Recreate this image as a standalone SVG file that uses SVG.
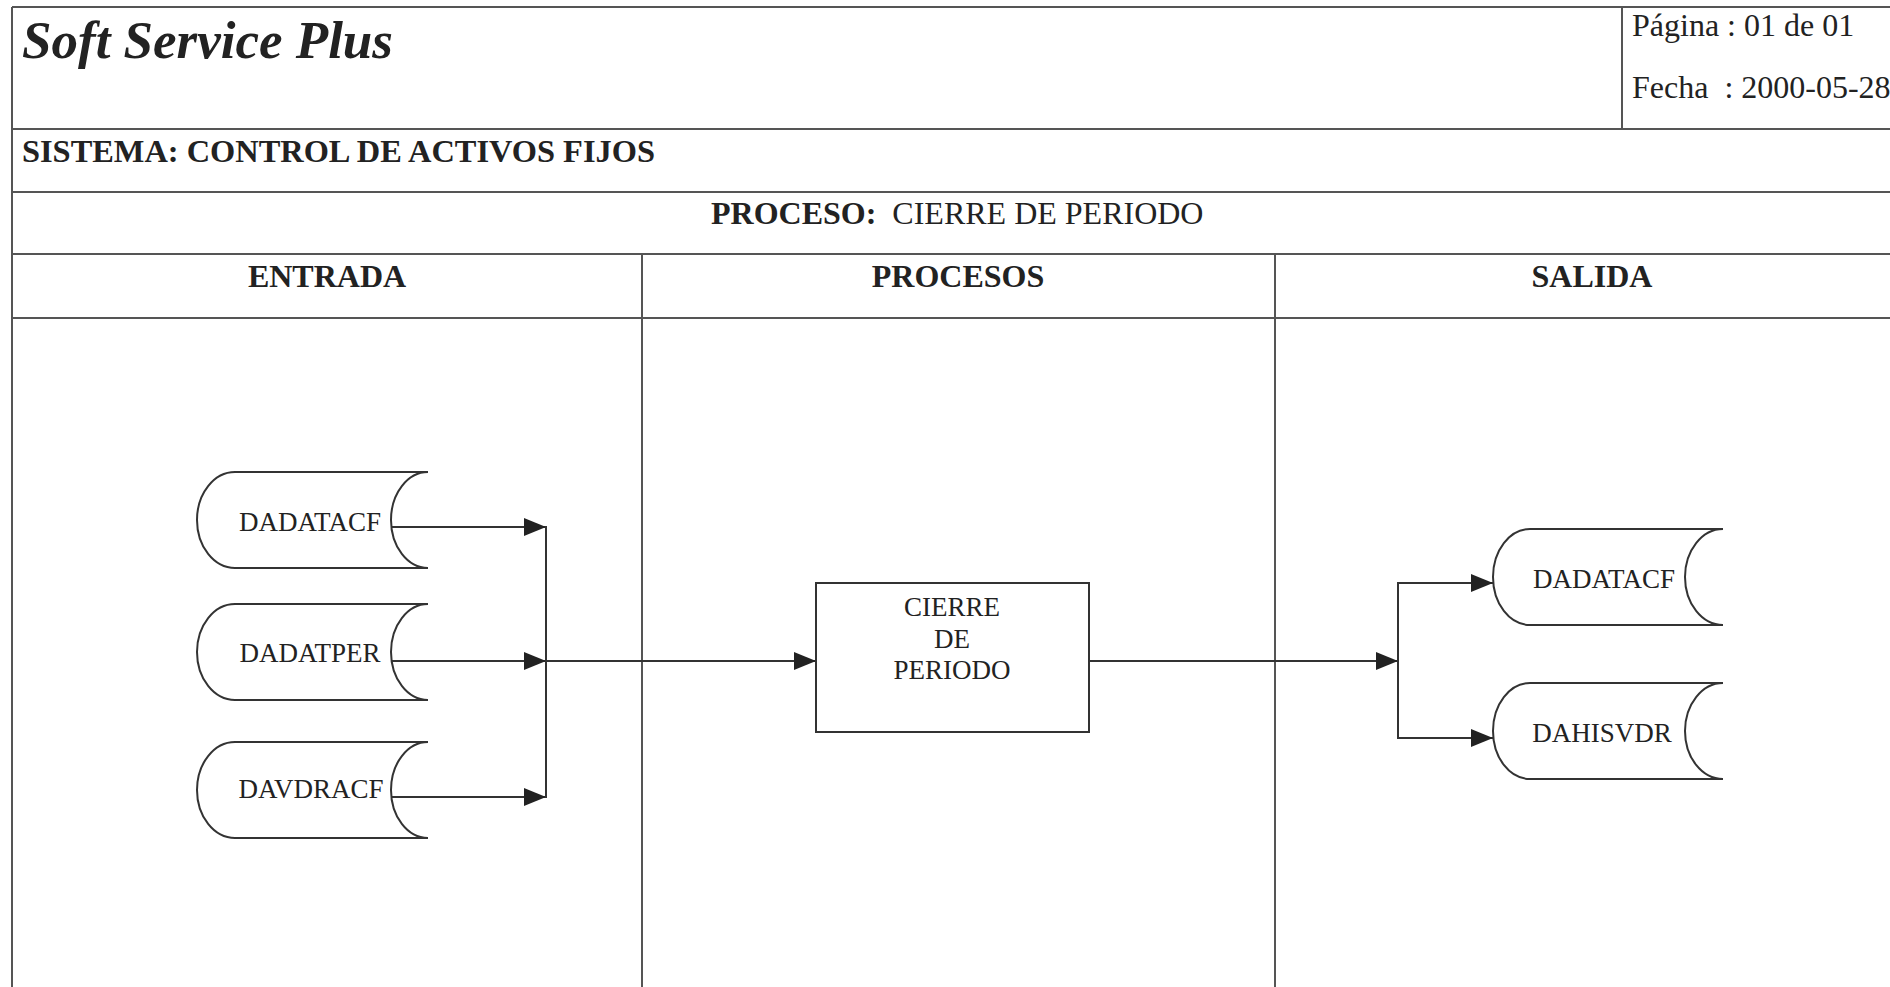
<svg xmlns="http://www.w3.org/2000/svg" width="1890" height="987" viewBox="0 0 1890 987">
<style>
.frame{stroke:#555;stroke-width:2;fill:none}
.shape{stroke:#333;stroke-width:2;fill:#fff}
.conn{stroke:#333;stroke-width:2;fill:none}
.t{font-family:"Liberation Serif","Times New Roman",serif;fill:#222}
.b{font-weight:bold}
.lbl{font-size:27px;text-anchor:middle}
</style>
<defs>
<marker id="arr" viewBox="0 0 22 18" refX="22" refY="9" markerWidth="22" markerHeight="18" markerUnits="userSpaceOnUse" orient="auto">
<path d="M0,0 L22,9 L0,18 Z" fill="#222"/>
</marker>
</defs>
<rect width="1890" height="987" fill="#fff"/>
<g id="frame">
<line class="frame" x1="12" y1="7" x2="1890" y2="7"/>
<line class="frame" x1="12" y1="7" x2="12" y2="987"/>
<line class="frame" x1="12" y1="129" x2="1890" y2="129"/>
<line class="frame" x1="1622" y1="7" x2="1622" y2="129"/>
<line class="frame" x1="12" y1="192" x2="1890" y2="192"/>
<line class="frame" x1="12" y1="254" x2="1890" y2="254"/>
<line class="frame" x1="12" y1="318" x2="1890" y2="318"/>
<line class="frame" x1="642" y1="254" x2="642" y2="987"/>
<line class="frame" x1="1275" y1="254" x2="1275" y2="987"/>
</g>
<g id="header">
<text class="t b" x="22" y="58" font-size="53" font-style="italic">Soft Service Plus</text>
<text class="t" x="1632" y="36" font-size="32">Página : 01 de 01</text>
<text class="t" x="1632" y="98" font-size="32" xml:space="preserve">Fecha  : 2000-05-28</text>
<text class="t b" x="22" y="162" font-size="32.4">SISTEMA: CONTROL DE ACTIVOS FIJOS</text>
<text class="t" x="711" y="224" font-size="32" xml:space="preserve"><tspan class="b">PROCESO:</tspan>  CIERRE DE PERIODO</text>
<text class="t b" x="327" y="287" font-size="32" text-anchor="middle">ENTRADA</text>
<text class="t b" x="958" y="287" font-size="32" text-anchor="middle">PROCESOS</text>
<text class="t b" x="1592" y="287" font-size="32" text-anchor="middle">SALIDA</text>
</g>
<g id="connectors">
<line class="conn" x1="391" y1="527" x2="546" y2="527" marker-end="url(#arr)"/>
<line class="conn" x1="391" y1="661" x2="546" y2="661" marker-end="url(#arr)"/>
<line class="conn" x1="391" y1="797" x2="546" y2="797" marker-end="url(#arr)"/>
<line class="conn" x1="546" y1="526" x2="546" y2="798"/>
<line class="conn" x1="546" y1="661" x2="816" y2="661" marker-end="url(#arr)"/>
<line class="conn" x1="1089" y1="661" x2="1398" y2="661" marker-end="url(#arr)"/>
<polyline class="conn" points="1493,583 1398,583 1398,738 1493,738"/>
<line class="conn" x1="1398" y1="583" x2="1493" y2="583" marker-end="url(#arr)"/>
<line class="conn" x1="1398" y1="738" x2="1493" y2="738" marker-end="url(#arr)"/>
</g>
<g id="in-dadatacf">
<path class="shape" d="M428,472 L235,472 A38,48 0 0 0 235,568 L428,568 A37,48 0 0 1 428,472 Z"/>
<text class="t lbl" x="310" y="531">DADATACF</text>
</g>
<g id="in-dadatper">
<path class="shape" d="M428,604 L235,604 A38,48 0 0 0 235,700 L428,700 A37,48 0 0 1 428,604 Z"/>
<text class="t lbl" x="310" y="662">DADATPER</text>
</g>
<g id="in-davdracf">
<path class="shape" d="M428,742 L235,742 A38,48 0 0 0 235,838 L428,838 A37,48 0 0 1 428,742 Z"/>
<text class="t lbl" x="311" y="798">DAVDRACF</text>
</g>
<g id="proc-cierre">
<rect class="shape" x="816" y="583" width="273" height="149"/>
<text class="t lbl" x="952" y="616">CIERRE</text>
<text class="t lbl" x="952" y="648">DE</text>
<text class="t lbl" x="952" y="679">PERIODO</text>
</g>
<g id="out-dadatacf">
<path class="shape" d="M1723,529 L1530,529 A37,48 0 0 0 1530,625 L1723,625 A38,48 0 0 1 1723,529 Z"/>
<text class="t lbl" x="1604" y="588">DADATACF</text>
</g>
<g id="out-dahisvdr">
<path class="shape" d="M1723,683 L1530,683 A37,48 0 0 0 1530,779 L1723,779 A38,48 0 0 1 1723,683 Z"/>
<text class="t lbl" x="1602" y="742">DAHISVDR</text>
</g>
</svg>
